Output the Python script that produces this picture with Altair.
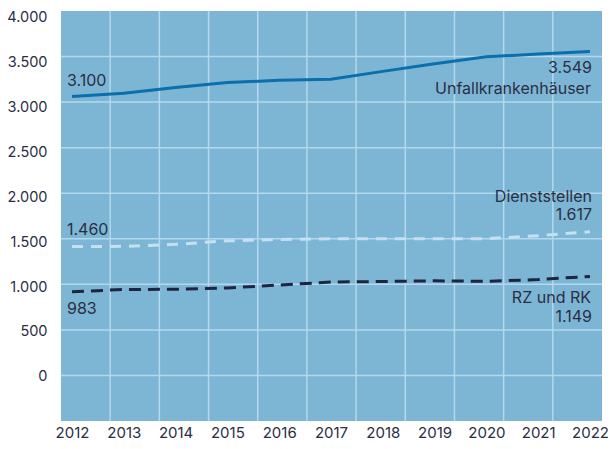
import altair as alt
import pandas as pd

# ---- data ----
years = [2012, 2013, 2014, 2015, 2016, 2017, 2018, 2019, 2020, 2021, 2022]
unfall = [3117, 3154, 3216, 3272, 3297, 3308, 3396, 3481, 3558, 3588, 3617]
dienst = [1449, 1452, 1474, 1513, 1529, 1535, 1535, 1536, 1537, 1570, 1614]
rzrk = [948, 972, 975, 989, 1022, 1055, 1061, 1069, 1063, 1083, 1118]
y_ticks = [0, 500, 1000, 1500, 2000, 2500, 3000, 3500, 4000]

ann_text = ["3.100", "3.549", "Unfallkrankenhäuser", "1.460", "1.617",
            "Dienststellen", "983", "1.149", "RZ und RK"]
ann_year = [2012, 2022, 2022, 2012, 2022, 2022, 2012, 2022, 2022]
ann_value = [3100, 3549, 3549, 1460, 1617, 1617, 983, 1149, 1149]

# ---- styles ----
BG = "#7db6d4"
GRID = "#b4d8ed"
TEXT = "#2a2e45"
FONT = "Inter"
ann_style = [("left", -5, -17.5), ("right", 2, 10), ("right", 1, 31),
             ("left", -5, -16), ("right", 2, -16), ("right", 2, -34.5),
             ("left", -5, 20.5), ("right", 2, 43.5), ("right", 1, 24)]

# decorative grid (independent of the data scales)
vgrid = alt.Chart(pd.DataFrame({"g": list(range(1, 11))})).mark_rule(
    color=GRID, strokeWidth=1.5
).encode(x=alt.X("g:Q", scale=alt.Scale(domain=[0, 11], nice=False, zero=False), axis=None))
hgrid = alt.Chart(pd.DataFrame({"h": list(range(1, 9))})).mark_rule(
    color=GRID, strokeWidth=1.5
).encode(y=alt.Y("h:Q", scale=alt.Scale(domain=[0, 9], nice=False, zero=False), axis=None))
grid = alt.layer(vgrid, hgrid)

X = alt.X("year:Q",
          scale=alt.Scale(domain=[2011.788, 2022.232], nice=False, zero=False),
          axis=alt.Axis(values=years, format="d", grid=False, ticks=False, tickSize=0,
                        domain=False, labelFontSize=15, labelColor=TEXT, labelFont=FONT,
                        labelPadding=4, title=None, orient="bottom", labelFlush=False))
Y = alt.Y("value:Q",
          scale=alt.Scale(domain=[-489, 4067], nice=False, zero=False),
          axis=alt.Axis(values=y_ticks, grid=False, ticks=False, tickSize=0, domain=False,
                        labelFontSize=14.5, labelColor=TEXT, labelFont=FONT, labelPadding=14,
                        title=None, orient="left",
                        labelExpr="replace(format(datum.value, ','), ',', '.')"))

def series(vals):
    return pd.DataFrame({"year": years, "value": vals})

l_unfall = alt.Chart(series(unfall)).mark_line(color="#0b6ead", strokeWidth=3).encode(x=X, y=Y)
l_dienst = alt.Chart(series(dienst)).mark_line(
    color="#c6e0f0", strokeWidth=3, strokeDash=[11, 8]).encode(x=X, y=Y)
l_rz = alt.Chart(series(rzrk)).mark_line(
    color="#1d2541", strokeWidth=3, strokeDash=[12, 7]).encode(x=X, y=Y)

texts = []
for t, yr, v, (al, dx, dy) in zip(ann_text, ann_year, ann_value, ann_style):
    df = pd.DataFrame({"year": [yr], "value": [v], "label": [t]})
    texts.append(
        alt.Chart(df).mark_text(align=al, baseline="middle", dx=dx, dy=dy,
                                fontSize=16, font=FONT, color=TEXT)
        .encode(x=X, y=Y, text="label:N")
    )

data_layer = alt.layer(l_dienst, l_rz, l_unfall, *texts)

chart = alt.layer(grid, data_layer).resolve_scale(
    x="independent", y="independent"
).properties(
    width=541, height=410,
    padding={"left": 53, "top": 3, "right": 6, "bottom": 20},
    autosize=alt.AutoSizeParams(type="none"),
).configure_view(fill=BG, stroke=None)

chart.save("out.html", embed_options={"renderer": "svg", "actions": False})
